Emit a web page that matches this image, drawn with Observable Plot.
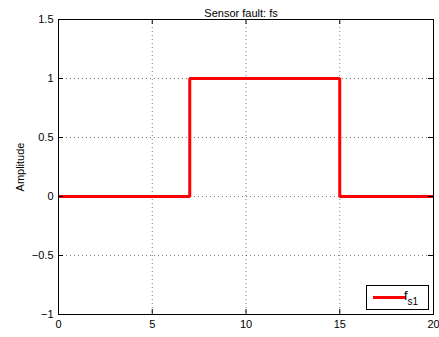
<!DOCTYPE html>
<html>
<head>
<meta charset="utf-8">
<script src="https://cdn.jsdelivr.net/npm/d3@7"></script>
<script src="https://cdn.jsdelivr.net/npm/@observablehq/plot@0.6"></script>
<style>
  html, body { margin: 0; padding: 0; background: #fff; }
  #chart svg { display: block; }
</style>
</head>
<body>
<div id="chart"></div>
<script>
// ---- data ----
const titleText = "Sensor fault: fs";
const yLabel = "Amplitude";
const legendMain = "f";
const legendSub = "s1";
const times = [0, 7, 15, 20];          // step change points
const values = [0, 1, 0, 0];           // amplitude held from each point (step-after)
const xTicks = [0, 5, 10, 15, 20];
const xTickLabels = ["0", "5", "10", "15", "20"];
const yTicks = [-1, -0.5, 0, 0.5, 1, 1.5];
const yTickLabels = ["\u22121", "\u22120.5", "0", "0.5", "1", "1.5"];
const xDomain = [0, 20];
const yDomain = [-1, 1.5];

const W = 439, H = 337;
const mL = 58, mR = 6, mT = 19, mB = 23;
const plotW = W - mL - mR, plotH = H - mT - mB;
const font = "'Liberation Sans', Arial, Helvetica, sans-serif";
const tickLen = 5;

const data = times.map((t, i) => ({t, v: values[i]}));
const fmtX = d => xTickLabels[xTicks.indexOf(d)];
const fmtY = d => yTickLabels[yTicks.indexOf(d)];

const chart = Plot.plot({
  width: W,
  height: H,
  marginLeft: mL,
  marginRight: mR,
  marginTop: mT,
  marginBottom: mB,
  style: {fontFamily: font, fontSize: "11px", color: "#000", background: "#fff", overflow: "visible"},
  x: {domain: xDomain},
  y: {domain: yDomain},
  marks: [
    Plot.gridX(xTicks, {stroke: "#000", strokeOpacity: 0.5, strokeWidth: 1, strokeDasharray: "1,3"}),
    Plot.gridY(yTicks, {stroke: "#000", strokeOpacity: 0.5, strokeWidth: 1, strokeDasharray: "1,3"}),
    Plot.line(data, {x: "t", y: "v", curve: "step-after", stroke: "#ff0000", strokeWidth: 3, strokeLinejoin: "miter", strokeLinecap: "butt"}),
    Plot.frame({stroke: "#000", strokeWidth: 1}),
    // inward tick marks on all four sides
    Plot.tickX(xTicks, {x: d => d, insetTop: plotH - tickLen, stroke: "#000"}),
    Plot.tickX(xTicks, {x: d => d, insetBottom: plotH - tickLen, stroke: "#000"}),
    Plot.tickY(yTicks, {y: d => d, insetRight: plotW - tickLen, stroke: "#000"}),
    Plot.tickY(yTicks, {y: d => d, insetLeft: plotW - tickLen, stroke: "#000"}),
    Plot.axisX(xTicks, {tickSize: 0, tickPadding: 6, tickFormat: fmtX, label: null, fontSize: 11}),
    Plot.axisY(yTicks, {tickSize: 0, tickPadding: 5, tickFormat: fmtY, label: yLabel, labelAnchor: "center", labelArrow: "none", labelOffset: 42, fontSize: 11}),
    Plot.text([titleText], {frameAnchor: "top", dy: -10, dx: -5, fontSize: 11, fill: "#000"})
  ]
});

document.getElementById("chart").appendChild(chart);

// ---- legend box (bottom-right inside the axes) ----
const svg = d3.select(chart);
const lx = mL + plotW - 67, ly = mT + plotH - 29, lw = 62, lh = 24;
const g = svg.append("g").attr("font-family", font);
g.append("rect").attr("x", lx + 0.5).attr("y", ly + 0.5).attr("width", lw).attr("height", lh)
  .attr("fill", "#fff").attr("stroke", "#000").attr("stroke-width", 1);
g.append("line").attr("x1", lx + 7).attr("x2", lx + 40).attr("y1", ly + 12.5).attr("y2", ly + 12.5)
  .attr("stroke", "#ff0000").attr("stroke-width", 3);
const t = g.append("text").attr("x", lx + 45).attr("y", ly + 15).attr("fill", "#000")
  .style("font-size", "13px");
t.append("tspan").text(legendMain);
t.append("tspan").attr("dy", 5).style("font-size", "10px").text(legendSub);
</script>
</body>
</html>
